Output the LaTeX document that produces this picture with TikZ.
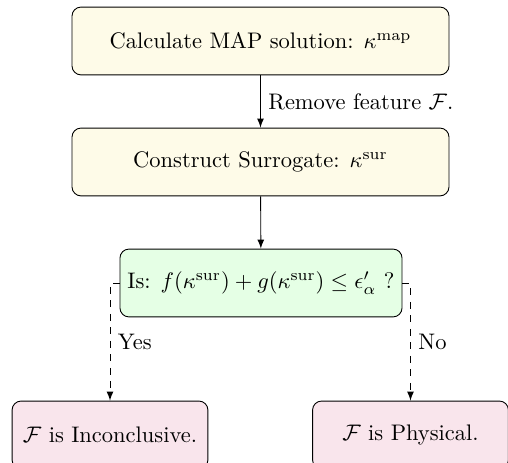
\documentclass[tikz,border=0pt]{standalone}
\usepackage{xcolor}
\usetikzlibrary{arrows}
\definecolor{creamfill}{RGB}{254,251,232}

\begin{document}
\begin{tikzpicture}
		[x=0.01562cm,y=-0.01562cm,
		stepbox/.style={draw,rounded corners,minimum height=1.06cm},
		topbox/.style={stepbox,fill=creamfill,minimum width=5.89cm},
		endbox/.style={stepbox,fill=purple!10,minimum width=3.06cm}]
		\useasboundingbox (0,0) rectangle (508,463);
		\node [topbox] (map) at (260.5,41) {Calculate MAP solution: $\kappa^{\mathrm{map}}$};
		\node [topbox] (sur) at (260.5,162) {Construct Surrogate: $\kappa^{\mathrm{sur}}$};
		\node [stepbox, fill=green!10] (test) at (261,283) {Is: $f(\kappa^{\mathrm{sur}})+g(\kappa^{\mathrm{sur}})\leq\epsilon'_\alpha$ ?};
		\node [endbox] (inc) at (110,435) {$\mathcal{F}$ is Inconclusive.};
		\node [endbox] (phys) at (410.5,435) {$\mathcal{F}$ is Physical.};
		\draw [-latex] (map) -- node [right] {Remove feature $\mathcal{F}$.} (sur);
		\draw [-latex] (sur) -- (test);
		\draw [-latex, dashed] (test.west) -| node [pos=.75, right] {Yes} (inc);
		\draw [-latex, dashed] (test.east) -| node [pos=.75, right] {No} (phys);
	\end{tikzpicture}
\end{document}
